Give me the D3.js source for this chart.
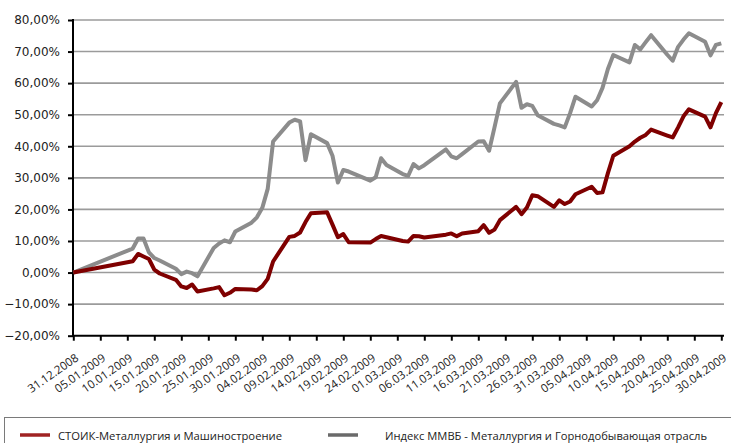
<!DOCTYPE html>
<html>
<head>
<meta charset="utf-8">
<script src="https://cdn.jsdelivr.net/npm/d3@7"></script>
<style>
    body { margin: 0; background: #fff; }
    svg { display: block; }
</style>
</head>
<body>
<svg id="chart"></svg>
<script>
const W = 731, H = 443;
const margin = {top: 20, right: 7, bottom: 107.3, left: 73};

// trading days, dd.mm.yyyy
const dates = [
    "31.12.2008",
    "11.01.2009", "12.01.2009", "13.01.2009", "14.01.2009", "15.01.2009", "16.01.2009",
    "19.01.2009", "20.01.2009", "21.01.2009", "22.01.2009", "23.01.2009",
    "26.01.2009", "27.01.2009", "28.01.2009", "29.01.2009", "30.01.2009",
    "02.02.2009", "03.02.2009", "04.02.2009", "05.02.2009", "06.02.2009",
    "09.02.2009", "10.02.2009", "11.02.2009", "12.02.2009", "13.02.2009",
    "16.02.2009", "17.02.2009", "18.02.2009", "19.02.2009", "20.02.2009",
    "24.02.2009", "25.02.2009", "26.02.2009", "27.02.2009",
    "02.03.2009", "03.03.2009", "04.03.2009", "05.03.2009", "06.03.2009",
    "10.03.2009", "11.03.2009", "12.03.2009", "13.03.2009",
    "16.03.2009", "17.03.2009", "18.03.2009", "19.03.2009", "20.03.2009",
    "23.03.2009", "24.03.2009", "25.03.2009", "26.03.2009", "27.03.2009",
    "30.03.2009", "31.03.2009", "01.04.2009", "02.04.2009", "03.04.2009",
    "06.04.2009", "07.04.2009", "08.04.2009", "09.04.2009", "10.04.2009",
    "13.04.2009", "14.04.2009", "15.04.2009", "16.04.2009", "17.04.2009",
    "20.04.2009", "21.04.2009", "22.04.2009", "23.04.2009", "24.04.2009",
    "27.04.2009", "28.04.2009", "29.04.2009", "30.04.2009"
];

// СТОИК-Металлургия и Машиностроение, %
const stoik = [
    0,
    3.6, 5.9, 5.1, 4.3, 0.9, -0.3,
    -2.3, -4.4, -4.9, -3.8, -6.0,
    -5.0, -4.6, -7.2, -6.4, -5.2,
    -5.4, -5.6, -4.3, -2.0, 3.5,
    11.3, 11.6, 12.7, 16.0, 18.8,
    19.1, 15.2, 11.2, 12.2, 9.6,
    9.5, 10.6, 11.6, 11.2,
    10.0, 9.8, 11.6, 11.5, 11.1,
    12.0, 12.4, 11.5, 12.4,
    13.1, 15.0, 12.6, 13.6, 16.6,
    20.8, 18.5, 20.6, 24.5, 24.2,
    20.8, 22.9, 21.7, 22.5, 24.8,
    27.2, 25.2, 25.4, 31.5, 37.0,
    40.0, 41.5, 42.7, 43.6, 45.3,
    43.4, 42.8, 46.0, 49.5, 51.7,
    49.4, 46.0, 50.5, 54.0
];

// Индекс ММВБ - Металлургия и Горнодобывающая отрасль, %
const mmvb = [
    0,
    7.6, 10.8, 10.8, 6.4, 4.6, 3.8,
    1.2, -0.5, 0.3, -0.2, -1.2,
    7.8, 9.2, 10.2, 9.6, 13.0,
    15.8, 17.5, 20.5, 26.5, 41.5,
    47.5, 48.4, 47.9, 35.6, 43.8,
    41.0, 37.0, 28.5, 32.5, 32.0,
    29.1, 30.2, 36.2, 34.1,
    31.2, 30.6, 34.4, 33.0, 34.0,
    39.0, 36.8, 36.2, 37.5,
    41.5, 41.6, 38.6, 46.0, 53.6,
    60.4, 52.2, 53.3, 52.8, 49.8,
    47.1, 46.6, 46.0, 50.5, 55.7,
    52.6, 54.6, 58.5, 64.5, 68.9,
    66.6, 72.1, 70.7, 73.0, 75.2,
    69.0, 67.1, 71.5, 73.8, 75.8,
    73.1, 68.8, 72.1, 72.6
];

const seriesNames = ["СТОИК-Металлургия и Машиностроение", "Индекс ММВБ - Металлургия и Горнодобывающая отрасль"];
const yTicks = [-20, -10, 0, 10, 20, 30, 40, 50, 60, 70, 80];
const xTickLabels = [
    "31.12.2008", "05.01.2009", "10.01.2009", "15.01.2009", "20.01.2009", "25.01.2009",
    "30.01.2009", "04.02.2009", "09.02.2009", "14.02.2009", "19.02.2009", "24.02.2009",
    "01.03.2009", "06.03.2009", "11.03.2009", "16.03.2009", "21.03.2009", "26.03.2009",
    "31.03.2009", "05.04.2009", "10.04.2009", "15.04.2009", "20.04.2009", "25.04.2009",
    "30.04.2009"
];

const parse = d3.timeParse("%d.%m.%Y");
const fmtPct = v => d3.format(".2f")(v).replace(".", ",") + "%";

let svg = d3.select("#chart")
    .attr("width", W)
    .attr("height", H);

let x = d3.scaleTime()
    .domain([parse("31.12.2008"), parse("30.04.2009")])
    .range([margin.left + 0.3, margin.left + 0.3 + 648]);
let y = d3.scaleLinear()
    .domain([-20, 80])
    .range([H - margin.bottom, margin.top]);
const plotRight = W - margin.right;

// horizontal grid
svg.append("g")
    .selectAll("line")
    .data(yTicks.slice(1))
    .join("line")
    .attr("x1", margin.left)
    .attr("x2", plotRight)
    .attr("y1", d => y(d))
    .attr("y2", d => y(d))
    .attr("stroke", "#9b9b9b")
    .attr("stroke-width", 1.6);

// y axis
let yAxis = svg.append("g")
    .attr("transform", `translate(${margin.left},0)`)
    .call(d3.axisLeft(y).tickValues(yTicks).tickFormat(fmtPct).tickSize(5).tickPadding(8));
yAxis.select(".domain").remove();
yAxis.selectAll(".tick line").attr("stroke", "#000").attr("stroke-width", 2);
yAxis.selectAll(".tick text")
    .attr("font-family", "DejaVu Sans, Verdana, sans-serif")
    .attr("font-size", 12)
    .attr("fill", "#222");
svg.append("line")
    .attr("x1", margin.left).attr("x2", margin.left)
    .attr("y1", margin.top - 1).attr("y2", y(-20) + 1)
    .attr("stroke", "#000").attr("stroke-width", 2);

// x axis at the bottom
let xAxis = svg.append("g")
    .attr("transform", `translate(0,${y(-20)})`)
    .call(d3.axisBottom(x).tickValues(xTickLabels.map(parse)).tickSize(5).tickFormat(""));
xAxis.select(".domain").remove();
xAxis.selectAll(".tick line").attr("stroke", "#000").attr("stroke-width", 2);
svg.append("line")
    .attr("x1", margin.left).attr("x2", plotRight)
    .attr("y1", y(-20)).attr("y2", y(-20))
    .attr("stroke", "#000").attr("stroke-width", 2);

svg.append("g")
    .selectAll("text")
    .data(xTickLabels)
    .join("text")
    .attr("transform", d => `translate(${x(parse(d)) + 6},${y(-20) + 24}) rotate(-35)`)
    .attr("text-anchor", "end")
    .attr("font-family", "Open Sans, sans-serif")
    .attr("font-size", 11.5)
    .attr("fill", "#222")
    .text(d => d);

// lines
let line = d3.line()
    .x((d, i) => x(parse(dates[i])))
    .y(d => y(d));

svg.append("path")
    .datum(mmvb)
    .attr("d", line)
    .attr("fill", "none")
    .attr("stroke", "#8c8c8c")
    .attr("stroke-width", 4)
    .attr("stroke-linejoin", "round");

svg.append("path")
    .datum(stoik)
    .attr("d", line)
    .attr("fill", "none")
    .attr("stroke", "#7f0000")
    .attr("stroke-width", 4)
    .attr("stroke-linejoin", "round");

// legend
let legend = svg.append("g");
legend.append("rect")
    .attr("x", 4.5).attr("y", 417.5)
    .attr("width", 740).attr("height", 40)
    .attr("fill", "none")
    .attr("stroke", "#7a7a7a");

const legendItems = [
    {name: seriesNames[0], color: "#a02323", x1: 20, x2: 50, tx: 58, len: 224},
    {name: seriesNames[1], color: "#6a6a6a", x1: 328, x2: 358, tx: 385, len: 322}
];
legendItems.forEach(item => {
    legend.append("line")
        .attr("x1", item.x1).attr("x2", item.x2)
        .attr("y1", 435).attr("y2", 435)
        .attr("stroke", item.color)
        .attr("stroke-width", 3.5);
    legend.append("text")
        .attr("x", item.tx)
        .attr("y", 439.5)
        .attr("font-family", "Open Sans, sans-serif")
        .attr("font-size", 11.5)
        .attr("textLength", item.len)
        .attr("lengthAdjust", "spacingAndGlyphs")
        .attr("fill", "#222")
        .text(item.name);
});
</script>
</body>
</html>
